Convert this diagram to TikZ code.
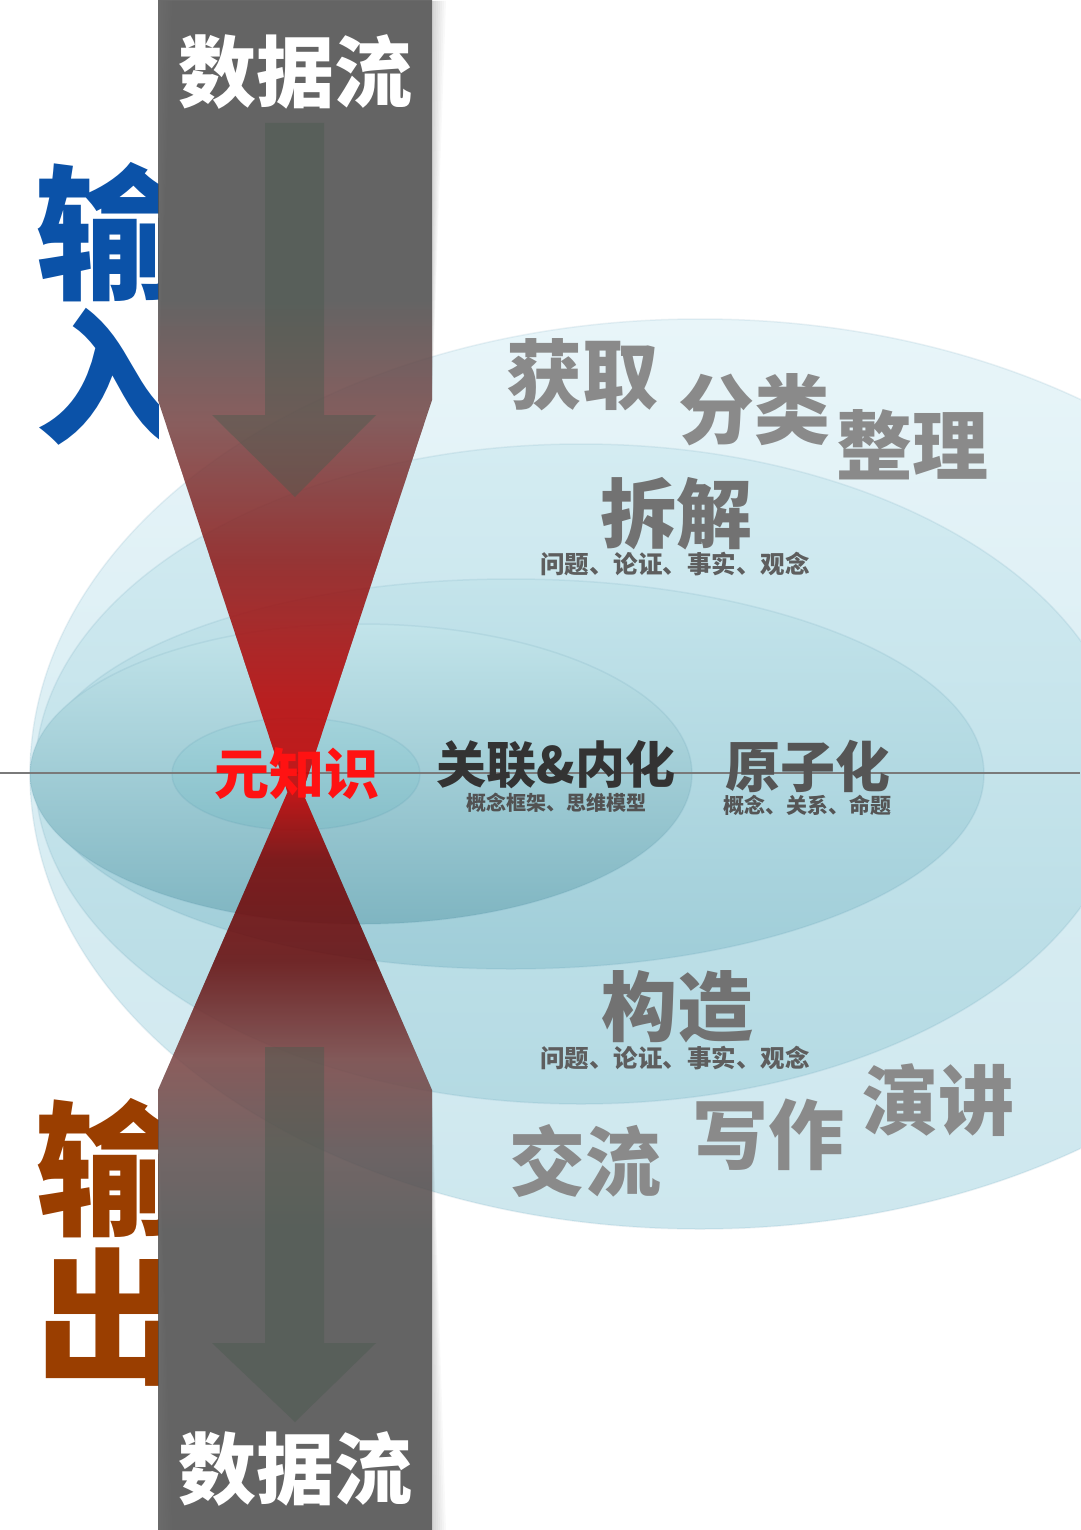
\documentclass[tikz,border=0pt]{standalone}
\usepackage{fontspec}
\newfontfamily\cjk{Noto Sans CJK SC}
\usetikzlibrary{calc}
\usetikzlibrary{positioning}

% --- Colours ---
\definecolor{inblue}{HTML}{0B52A8}
\definecolor{outbrown}{HTML}{9A3E00}
\definecolor{wordgrey}{HTML}{8A8A8A}
\definecolor{stepgrey}{HTML}{727272}
\definecolor{subgrey}{HTML}{5E5E5E}
\definecolor{coregrey}{HTML}{333333}
\definecolor{atomgrey}{HTML}{555555}
\definecolor{metared}{HTML}{FF1212}
\definecolor{axisgrey}{HTML}{7A7A7A}
\definecolor{arrowgrey}{HTML}{4A5A4E}
% ellipses, outer to inner
\definecolor{ellAtop}{HTML}{E8F5F9}\definecolor{ellAbot}{HTML}{CDE7EE}
\definecolor{ellBtop}{HTML}{D4ECF2}\definecolor{ellBbot}{HTML}{B4DAE3}
\definecolor{ellCtop}{HTML}{C4E4EB}\definecolor{ellCbot}{HTML}{9FCDD8}
\definecolor{ellDtop}{HTML}{C2E4EA}\definecolor{ellDbot}{HTML}{7FB5C1}
\definecolor{ellEtop}{HTML}{A3D3DB}\definecolor{ellEbot}{HTML}{86BFC9}
% data band, top to bottom
\definecolor{bandgrey}{HTML}{515151}
\definecolor{bandA}{HTML}{7B4A4A}
\definecolor{bandB}{HTML}{921D1C}
\definecolor{bandC}{HTML}{C00606}
\definecolor{bandD}{HTML}{D00000}
\definecolor{bandE}{HTML}{7E0606}
\definecolor{bandF}{HTML}{690E0E}
\definecolor{bandG}{HTML}{7F4948}
\definecolor{bandH}{HTML}{625353}

\pgfdeclareverticalshading{bandshade}{100bp}{%
  color(0bp)=(bandgrey); color(34.8bp)=(bandgrey); color(37.4bp)=(bandH);
  color(40.4bp)=(bandG); color(43.6bp)=(bandF); color(46.9bp)=(bandE);
  color(49.2bp)=(bandD); color(52.1bp)=(bandC); color(56.7bp)=(bandB);
  color(61.3bp)=(bandA); color(65.2bp)=(bandgrey); color(100bp)=(bandgrey)}

\begin{document}
\begin{tikzpicture}[
    x=1pt, y=-1pt,
    % Define the styles for the words
    bigword/.style={inner sep=0pt, font=\cjk\bfseries\fontsize{76}{76}\selectfont, text=wordgrey},
    stepword/.style={bigword, text=stepgrey},
    subword/.style={inner sep=0pt, font=\cjk\bfseries\fontsize{24.5}{24.5}\selectfont, text=subgrey},
    sideword/.style={inner sep=0pt, font=\cjk\bfseries\fontsize{146}{146}\selectfont},
    flowword/.style={inner sep=0pt, font=\cjk\bfseries\fontsize{78}{78}\selectfont, text=white},
    % Define the style of the block arrows in the band
    flowarrow/.style={fill=arrowgrey, fill opacity=0.45}
]

    % --- Page ---
    \fill[white, use as bounding box] (0,0) rectangle (1080,1530);

    % --- Input / output labels (half hidden by the band) ---
    \begin{scope}
        \clip (0,0) rectangle (158,1530);
        \foreach \word/\ypos/\col [count=\i] in {输/232/inblue, 入/377/inblue, 输/1168/outbrown, 出/1317/outbrown} {
            \node[sideword, text=\col] (side\i) at (108,\ypos) {\word};
        }
    \end{scope}

    % --- Nested ellipses, outer to inner ---
    \foreach \cx/\rx/\ry/\name in {700/670/455/ellA, 581/546/330/ellB, 511/473/195/ellC, 361/331/150/ellD, 296/124/56/ellE} {
        \shade[top color=\name top, bottom color=\name bot] (\cx,774) ellipse [x radius=\rx, y radius=\ry];
        \draw[black!40!cyan, opacity=0.1, line width=1.5pt] (\cx,774) ellipse [x radius=\rx, y radius=\ry];
    }

    % --- Horizontal axis ---
    \coordinate (axisL) at (0,773);
    \coordinate (axisR) at (1080,773);
    \draw[axisgrey, line width=2.2pt] (axisL) -- (axisR);

    % --- Data band with its hourglass waist ---
    \coordinate (tl) at (158,400);
    \coordinate (tr) at (432,400);
    \coordinate (topapex) at (295,815);
    \coordinate (bl) at (158,1090);
    \coordinate (br) at (432,1090);
    \coordinate (botapex) at (295,775);
    \coordinate (neckl) at (intersection of tl--topapex and botapex--bl);
    \coordinate (neckr) at (intersection of tr--topapex and botapex--br);
    \def\bandpath{(158,0) -- (432,0) -- (tr) -- (neckr) -- (br) -- (432,1530)
        -- (158,1530) -- (bl) -- (neckl) -- (tl) -- cycle}

    % soft shadow on the right
    \foreach \d in {2,4,...,14} {
        \fill[black, opacity=0.025, xshift=\d pt, yshift=-1pt] \bandpath;
    }
    \shade[shading=bandshade, opacity=0.85] \bandpath;

    % --- Block arrows ---
    \foreach \top/\neck/\tip in {123/415/497, 1047/1343/1422} {
        \fill[flowarrow] (265,\top) -- (324,\top) -- (324,\neck) -- (376,\neck)
            -- (295,\tip) -- (212,\neck) -- (265,\neck) -- cycle;
    }

    % --- Band titles ---
    \node[flowword] (flowtop) at (295,72) {数据流};
    \node[flowword] (flowbot) at (295,1469) {数据流};

    % --- Input side words ---
    \node[bigword] (huoqu) at (582,375) {获取};
    \node[bigword] (fenlei) at (754,410) {分类};
    \node[bigword] (zhengli) at (912,445) {整理};
    \node[stepword] (chaijie) at (676,514) {拆解};
    \node[subword] (chaisub) at (675,564) {问题、论证、事实、观念};

    % --- Core ---
    \node[inner sep=0pt, font=\cjk\bfseries\fontsize{55}{55}\selectfont, text=metared] (meta) at (297,774) {元知识};
    \node[inner sep=0pt, font=\cjk\bfseries\fontsize{50}{50}\selectfont, text=coregrey] (link) at (556,765) {关联\&内化};
    \node[subword, font=\cjk\bfseries\fontsize{20}{20}\selectfont, text=coregrey!85] (linksub) at (556,803) {概念框架、思维模型};
    \node[inner sep=0pt, font=\cjk\bfseries\fontsize{55}{55}\selectfont, text=atomgrey] (atom) at (808,766) {原子化};
    \node[subword, font=\cjk\bfseries\fontsize{21}{21}\selectfont, text=atomgrey] (atomsub) at (807,805) {概念、关系、命题};

    % --- Output side words ---
    \node[stepword] (gouzao) at (677,1007) {构造};
    \node[subword] (gousub) at (675,1058) {问题、论证、事实、观念};
    \node[bigword] (jiaoliu) at (585,1161) {交流};
    \node[bigword] (xiezuo) at (768,1135) {写作};
    \node[bigword] (yanjiang) at (938,1100) {演讲};

\end{tikzpicture}
\end{document}
